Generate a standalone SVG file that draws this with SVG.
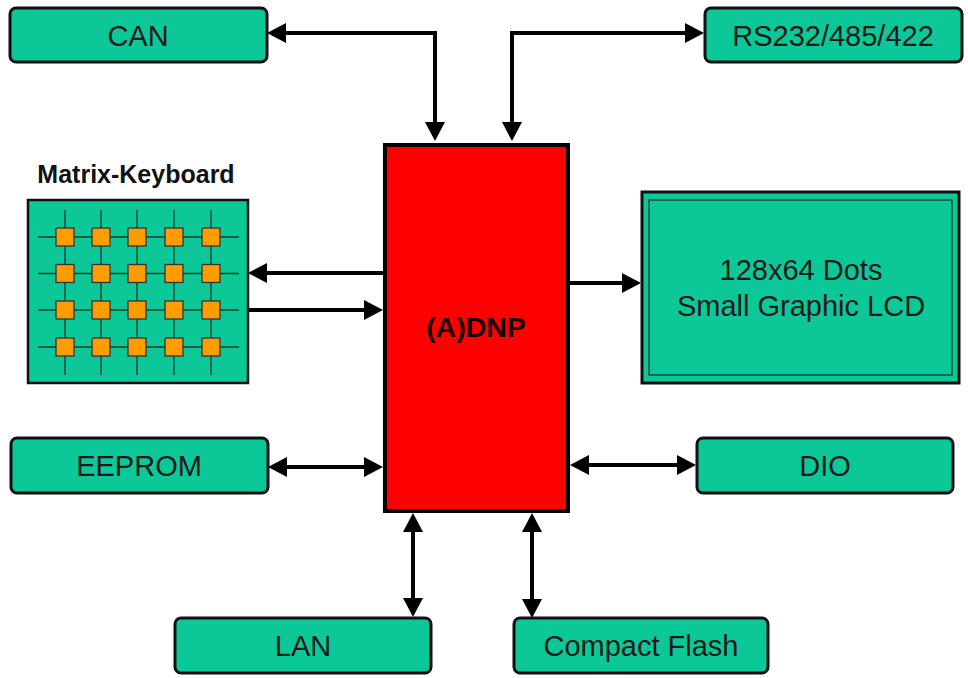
<svg xmlns="http://www.w3.org/2000/svg" width="968" height="678" viewBox="0 0 968 678">
<style>
.box{fill:#0cc898;stroke:#111;stroke-width:3}
.lbl{font-family:"Liberation Sans",Arial,sans-serif;font-size:29px;fill:#1a1a1a;text-anchor:middle}
.conn{fill:none;stroke:#000;stroke-width:4}
.grid{stroke:#1a3a2a;stroke-width:1.3;fill:none}
.key{fill:#ff9c00;stroke:#333;stroke-width:1.3}
</style>
<defs>
<marker id="ah" viewBox="0 0 19 20" refX="15" refY="10" markerWidth="19" markerHeight="20" markerUnits="userSpaceOnUse" orient="auto-start-reverse">
<path d="M0,0 L19,10 L0,20 z" fill="#000"/>
</marker>
</defs>
<rect width="968" height="678" fill="#fff"/>
<g id="connectors">
<path class="conn" d="M271,33 H435 V137" marker-start="url(#ah)" marker-end="url(#ah)"/>
<path class="conn" d="M512,137 V33 H700" marker-start="url(#ah)" marker-end="url(#ah)"/>
<path class="conn" d="M383,273 H252" marker-end="url(#ah)"/>
<path class="conn" d="M248,310 H379" marker-end="url(#ah)"/>
<path class="conn" d="M570,283 H637" marker-end="url(#ah)"/>
<path class="conn" d="M272,467 H379" marker-start="url(#ah)" marker-end="url(#ah)"/>
<path class="conn" d="M574,465 H692" marker-start="url(#ah)" marker-end="url(#ah)"/>
<path class="conn" d="M413,517 V613" marker-start="url(#ah)" marker-end="url(#ah)"/>
<path class="conn" d="M532,517 V614" marker-start="url(#ah)" marker-end="url(#ah)"/>
</g>
<g id="can">
<rect class="box" x="10" y="8" width="257" height="54" rx="6"/>
<text class="lbl" x="138" y="46">CAN</text>
</g>
<g id="rs232">
<rect class="box" x="705" y="8" width="257" height="54" rx="6"/>
<text class="lbl" x="833" y="46">RS232/485/422</text>
</g>
<g id="dnp">
<rect x="385" y="145" width="183" height="366" fill="#ff0000" stroke="#000" stroke-width="4"/>
<text x="476" y="337" font-family="Liberation Sans,Arial,sans-serif" font-size="28.5" font-weight="bold" fill="#1a0000" text-anchor="middle">(A)DNP</text>
</g>
<g id="keyboard">
<text x="136" y="183" font-family="Liberation Sans,Arial,sans-serif" font-size="25" font-weight="bold" fill="#111" text-anchor="middle">Matrix-Keyboard</text>
<rect x="28" y="200" width="220" height="183" fill="#0cc898" stroke="#111" stroke-width="2.5"/>
<path class="grid" d="M38,237 H239 M38,273.5 H239 M38,310 H239 M38,347 H239 M65,210 V375 M101,210 V375 M137,210 V375 M174,210 V375 M211,210 V375"/>
<g class="key">
<rect x="56" y="228" width="18" height="18"/><rect x="92" y="228" width="18" height="18"/><rect x="128" y="228" width="18" height="18"/><rect x="165" y="228" width="18" height="18"/><rect x="202" y="228" width="18" height="18"/>
<rect x="56" y="264.5" width="18" height="18"/><rect x="92" y="264.5" width="18" height="18"/><rect x="128" y="264.5" width="18" height="18"/><rect x="165" y="264.5" width="18" height="18"/><rect x="202" y="264.5" width="18" height="18"/>
<rect x="56" y="301" width="18" height="18"/><rect x="92" y="301" width="18" height="18"/><rect x="128" y="301" width="18" height="18"/><rect x="165" y="301" width="18" height="18"/><rect x="202" y="301" width="18" height="18"/>
<rect x="56" y="338" width="18" height="18"/><rect x="92" y="338" width="18" height="18"/><rect x="128" y="338" width="18" height="18"/><rect x="165" y="338" width="18" height="18"/><rect x="202" y="338" width="18" height="18"/>
</g>
</g>
<g id="lcd">
<rect x="642" y="192" width="317" height="191" fill="#0cc898" stroke="#111" stroke-width="3"/>
<rect x="649" y="200" width="303" height="175" fill="none" stroke="#1a3a2a" stroke-width="1.3"/>
<text class="lbl" x="801" y="280">128x64 Dots</text>
<text class="lbl" x="801" y="316">Small Graphic LCD</text>
</g>
<g id="eeprom">
<rect class="box" x="11" y="438" width="257" height="55" rx="6"/>
<text class="lbl" x="139" y="476">EEPROM</text>
</g>
<g id="dio">
<rect class="box" x="697" y="438" width="256" height="55" rx="6"/>
<text class="lbl" x="825" y="476">DIO</text>
</g>
<g id="lan">
<rect class="box" x="175" y="618" width="256" height="55" rx="6"/>
<text class="lbl" x="303" y="656">LAN</text>
</g>
<g id="cf">
<rect class="box" x="514" y="618" width="254" height="55" rx="6"/>
<text class="lbl" x="641" y="656">Compact Flash</text>
</g>
</svg>
